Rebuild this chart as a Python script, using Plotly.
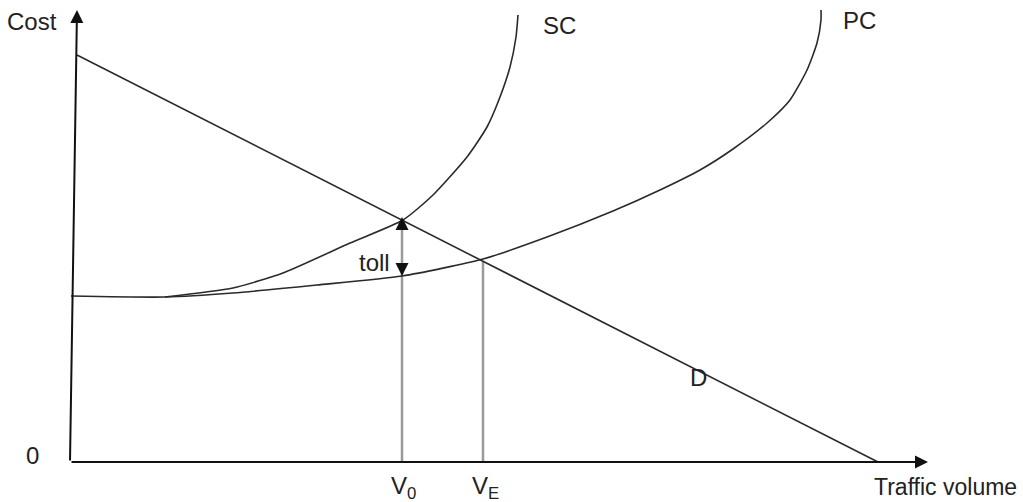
import plotly.graph_objects as go

# traffic volume / cost units (origin at the axes corner)
pc_volume = [1, 95, 163, 247, 332, 413, 477, 543, 590, 630, 663, 697, 720, 737, 747, 751, 751]
pc_cost = [166, 165, 169, 177, 186, 203, 225, 251, 272, 292, 313, 339, 362, 392, 419, 442, 452]

sc_volume = [95, 163, 213, 280, 333, 363, 397, 417, 430, 440, 446, 448]
sc_cost = [165, 174, 189, 219, 242, 267, 305, 335, 365, 395, 425, 447]

d_volume = [7, 808]
d_cost = [407, 0]

v0 = 332
ve = 413
v0_top = 242
ve_top = 201
v0_pc = 186

ink = "#2a2a2a"
grey = "#9a9a9a"
font = dict(family="Liberation Sans, Arial, sans-serif", size=24, color="#222")

fig = go.Figure()

# vertical drop lines
fig.add_trace(go.Scatter(x=[v0, v0], y=[0, v0_top], mode="lines",
                         line=dict(color=grey, width=2.5), hoverinfo="skip"))
fig.add_trace(go.Scatter(x=[ve, ve], y=[0, ve_top], mode="lines",
                         line=dict(color=grey, width=2.5), hoverinfo="skip"))

fig.add_trace(go.Scatter(x=d_volume, y=d_cost, mode="lines",
                         line=dict(color=ink, width=1.6), name="D"))
fig.add_trace(go.Scatter(x=pc_volume, y=pc_cost, mode="lines",
                         line=dict(color=ink, width=1.6, shape="spline", smoothing=0.6), name="PC"))
fig.add_trace(go.Scatter(x=sc_volume, y=sc_cost, mode="lines",
                         line=dict(color=ink, width=1.6, shape="spline", smoothing=0.6), name="SC"))

arrow = dict(text="", showarrow=True, axref="x", ayref="y", xref="x", yref="y",
             arrowhead=2, arrowsize=1.3, arrowwidth=2, arrowcolor="#111", standoff=0)

# axes with arrow tips
fig.add_annotation(x=858, y=0, ax=0, ay=0, **arrow)
fig.add_annotation(x=7, y=452, ax=0, ay=0, **arrow)

# toll arrow heads
fig.add_annotation(x=v0, y=v0_top + 3, ax=v0, ay=v0_top - 10, **arrow)
fig.add_annotation(x=v0, y=v0_pc, ax=v0, ay=v0_pc + 12, **arrow)

labels = [
    ("Cost", -38, 441),
    ("SC", 489, 437),
    ("PC", 789, 442),
    ("toll", 304, 200),
    ("D", 628, 85),
    ("0", -38, 7),
    ("V<sub>0</sub>", v0 + 1, -25),
    ("V<sub>E</sub>", ve + 2, -25),
]
for txt, x, y in labels:
    fig.add_annotation(x=x, y=y, text=txt, showarrow=False, xref="x", yref="y",
                       xanchor="center", yanchor="middle", font=font)

fig.add_annotation(x=875, y=-25, text="Traffic volume", showarrow=False, xref="x", yref="y",
                   xanchor="center", yanchor="middle", font=dict(font, size=23))

fig.update_layout(
    width=1023, height=502,
    margin=dict(l=0, r=0, t=0, b=0),
    plot_bgcolor="white", paper_bgcolor="white",
    showlegend=False,
    xaxis=dict(range=[-70, 953], visible=False),
    yaxis=dict(range=[-40, 462], visible=False),
)

fig.write_html("out.html", config={"displayModeBar": False},
               post_script="document.body.style.margin='0px';")
